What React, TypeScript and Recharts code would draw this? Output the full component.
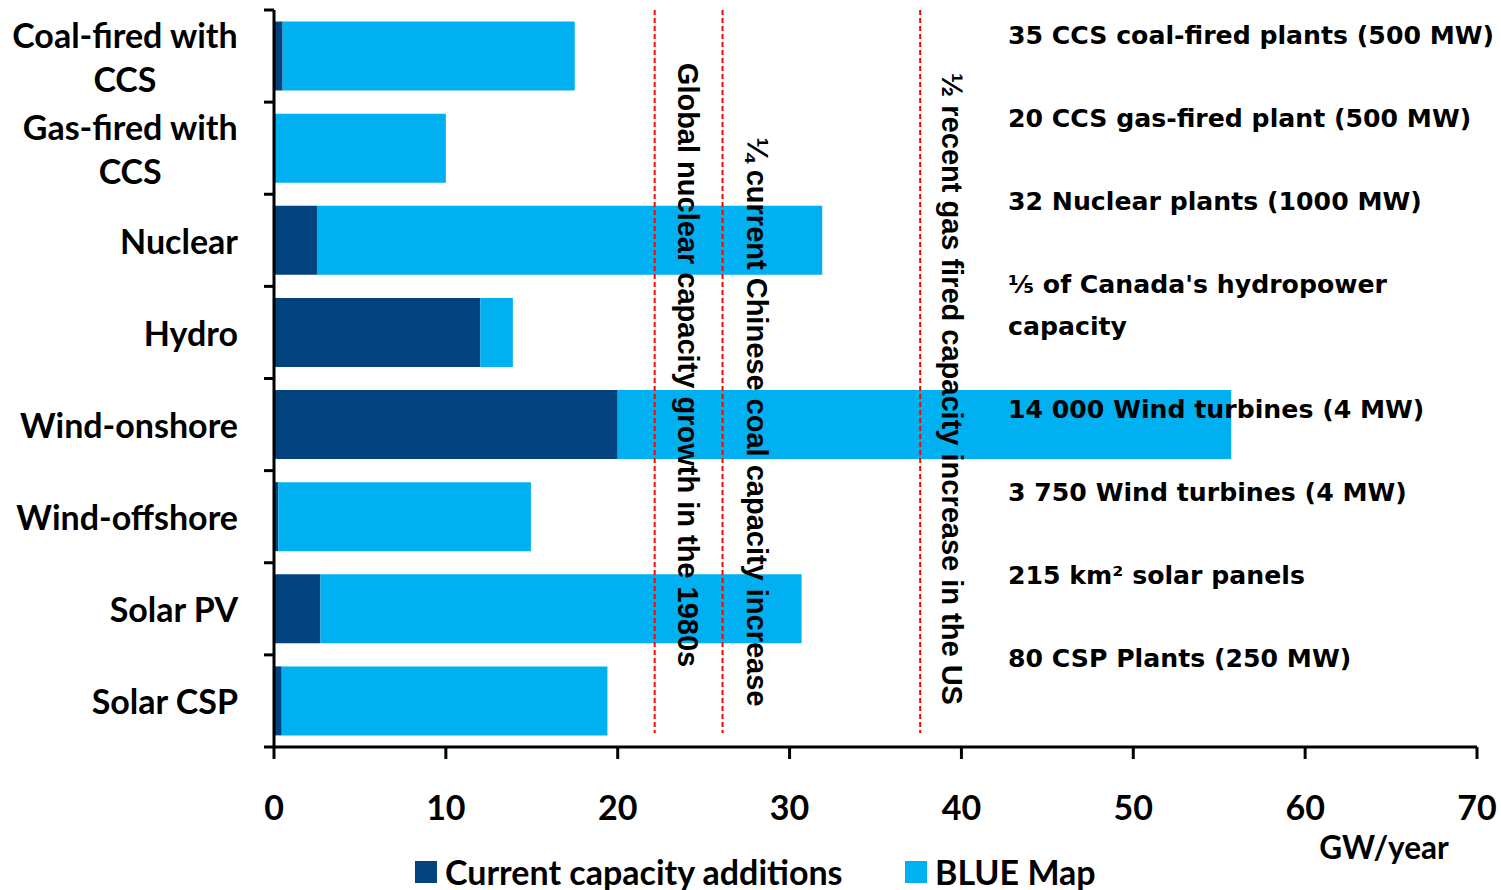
import React from 'react';
import { BarChart, Bar, XAxis, YAxis, ReferenceLine, Legend } from 'recharts';

const categories = ['Coal-fired with CCS', 'Gas-fired with CCS', 'Nuclear', 'Hydro', 'Wind-onshore', 'Wind-offshore', 'Solar PV', 'Solar CSP'];
const currentAdditions = [0.5, 0.1, 2.5, 12.0, 20.0, 0.25, 2.7, 0.45];
const blueMap = [17.0, 9.9, 29.4, 1.9, 35.7, 14.7, 28.0, 18.95];
const xTicks = [0, 10, 20, 30, 40, 50, 60, 70];
const seriesNames = ['Current capacity additions', 'BLUE Map'];
const referenceValues = [22.15, 26.1, 37.6];
const referenceLabels = [
  'Global nuclear capacity growth  in the 1980s',
  '¼ current Chinese coal capacity increase',
  '½ recent gas fired capacity increase in the US',
];
const annotations = [
  '35 CCS coal-fired plants (500 MW)',
  '20 CCS gas-fired plant (500 MW)',
  '32 Nuclear plants (1000 MW)',
  "⅕ of Canada's hydropower\ncapacity",
  '14 000 Wind turbines (4 MW)',
  '3 750 Wind turbines (4 MW)',
  '215 km² solar panels',
  '80 CSP Plants (250 MW)',
];
const unitLabel = 'GW/year';

const data = categories.map((name, i) => ({ name, current: currentAdditions[i], blue: blueMap[i] }));

const W = 1501;
const H = 890;
const MARGIN = { top: 10, right: 24, bottom: 0, left: 0 };
const Y_AXIS_W = 274;
const X_AXIS_H = 103;
const LEGEND_H = 40;
const PLOT_TOP = MARGIN.top;
const PLOT_BOTTOM = H - MARGIN.bottom - LEGEND_H - X_AXIS_H;
const BAND = (PLOT_BOTTOM - PLOT_TOP) / categories.length;
const AXIS_X = MARGIN.left + Y_AXIS_W;

const DARK = '#02427F';
const LIGHT = '#00B0F0';
const LABEL_FONT = 'Lato, "Open Sans", sans-serif';
const LABEL_SIZE = 34;
const NOTE_FONT = '"DejaVu Sans", Verdana, sans-serif';
const NOTE_SIZE = 25.2;
const REF_FONT = '"Liberation Sans", Arial, sans-serif';
const REF_SIZE = 29;
const REF_BOTTOM_GAP = 14;
const refOffsets = [
  { dx: 33, dy: -13.5 },
  { dx: 34.5, dy: 43.5 },
  { dx: 32, dy: 10.5 },
];

let measureCtx: CanvasRenderingContext2D | null = null;
function measure(text: string, font: string): number {
  if (!measureCtx) {
    const c = document.createElement('canvas');
    measureCtx = c.getContext('2d');
  }
  if (!measureCtx) return text.length * 15;
  measureCtx.font = font;
  return measureCtx.measureText(text).width;
}

function wrapLabel(label: string): string[] {
  if (label.length <= 15) return [label];
  const idx = label.lastIndexOf(' ');
  return [label.slice(0, idx), label.slice(idx + 1)];
}

const YTick = (props: any) => {
  const { y, payload, index } = props;
  const lines = wrapLabel(String(payload.value));
  const right = AXIS_X - 36;
  const top = y - BAND / 2;
  const ticks = [top];
  if (index === categories.length - 1) ticks.push(y + BAND / 2);
  let content;
  if (lines.length === 1) {
    content = (
      <text x={right} y={y} textAnchor="end" dominantBaseline="central" fontFamily={LABEL_FONT} fontWeight={700} fontSize={LABEL_SIZE} fill="#000">
        {lines[0]}
      </text>
    );
  } else {
    const w = Math.max(...lines.map((l) => measure(l, `700 ${LABEL_SIZE}px ${LABEL_FONT}`)));
    const cx = right - w / 2;
    content = (
      <text textAnchor="middle" fontFamily={LABEL_FONT} fontWeight={700} fontSize={LABEL_SIZE} fill="#000">
        {lines.map((l, i) => (
          <tspan key={i} x={cx} y={y + (i - (lines.length - 1) / 2) * 44} dominantBaseline="central">
            {l}
          </tspan>
        ))}
      </text>
    );
  }
  return (
    <g>
      {ticks.map((ty, i) => (
        <line key={i} x1={AXIS_X - 10} x2={AXIS_X} y1={ty} y2={ty} stroke="#000" strokeWidth={3} />
      ))}
      {content}
    </g>
  );
};

const XTick = (props: any) => {
  const { x, payload } = props;
  return (
    <text x={x} y={PLOT_BOTTOM + 59} textAnchor="middle" dominantBaseline="central" fontFamily={LABEL_FONT} fontWeight={700} fontSize={LABEL_SIZE} fill="#000">
      {payload.value}
    </text>
  );
};

const LegendContent = () => {
  const colors = [DARK, LIGHT];
  const lefts = [415, 905];
  return (
    <div style={{ position: 'relative', width: W, height: LEGEND_H }}>
      {seriesNames.map((n, i) => (
        <div key={n} style={{ position: 'absolute', left: lefts[i], top: 0, height: LEGEND_H, display: 'flex', alignItems: 'center' }}>
          <div style={{ width: 22, height: 22, background: colors[i], marginRight: 8, marginTop: 4 }} />
          <span style={{ fontFamily: LABEL_FONT, fontWeight: 700, fontSize: LABEL_SIZE, color: '#000', lineHeight: 1, marginTop: 4 }}>{n}</span>
        </div>
      ))}
    </div>
  );
};

const makeRefLabel = (text: string, off: { dx: number; dy: number }) => (props: any) => {
  const vb = props.viewBox || {};
  const cx = (vb.x ?? 0) + off.dx;
  const cy = (vb.y ?? 0) + (vb.height ?? 0) / 2 + off.dy;
  return (
    <text
      transform={`translate(${cx}, ${cy}) rotate(90)`}
      textAnchor="middle"
      dominantBaseline="central"
      fontFamily={REF_FONT}
      fontWeight={700}
      fontSize={REF_SIZE}
      fill="#000"
    >
      {text}
    </text>
  );
};

const RefShape = (p: any) => {
  const top = Math.min(p.y1, p.y2);
  const bottom = Math.max(p.y1, p.y2) - REF_BOTTOM_GAP;
  return <line x1={p.x1} x2={p.x2} y1={top} y2={bottom} stroke="#FF0000" strokeWidth={2} strokeDasharray="5 3" />;
};

const AnnotationsLabel = () => {
  let extra = 0;
  const items: React.ReactNode[] = [];
  annotations.forEach((a, i) => {
    const lines = a.split('\n');
    lines.forEach((l, j) => {
      const y = 35 + 83 * i + 42 * (extra + j);
      items.push(
        <text key={`${i}-${j}`} x={1008} y={y} dominantBaseline="central" fontFamily={NOTE_FONT} fontWeight={700} fontSize={NOTE_SIZE} fill="#000">
          {l}
        </text>
      );
    });
    extra += lines.length - 1;
  });
  return (
    <g>
      {items}
      <text x={1384} y={847} textAnchor="middle" dominantBaseline="central" fontFamily={LABEL_FONT} fontWeight={700} fontSize={31.5} fill="#000">
        {unitLabel}
      </text>
    </g>
  );
};

export default function App() {
  return (
    <div style={{ position: 'absolute', left: 0, top: 0, width: W, height: H, background: '#fff' }}>
      <BarChart width={W} height={H} data={data} layout="vertical" margin={MARGIN} barCategoryGap="12.5%">
        <XAxis
          type="number"
          domain={[0, 70]}
          ticks={xTicks}
          interval={0}
          height={X_AXIS_H}
          axisLine={{ stroke: '#000', strokeWidth: 3 }}
          tickLine={{ stroke: '#000', strokeWidth: 3 }}
          tickSize={12}
          tick={<XTick />}
        />
        <YAxis
          type="category"
          dataKey="name"
          width={Y_AXIS_W}
          axisLine={{ stroke: '#000', strokeWidth: 3 }}
          tickLine={false}
          tick={<YTick />}
          interval={0}
        />
        <Legend verticalAlign="bottom" height={LEGEND_H} wrapperStyle={{ left: 0, width: W }} content={<LegendContent />} />
        <Bar dataKey="current" name={seriesNames[0]} stackId="a" fill={DARK} isAnimationActive={false} />
        <Bar dataKey="blue" name={seriesNames[1]} stackId="a" fill={LIGHT} isAnimationActive={false} />
        {referenceValues.map((v, i) => (
          <ReferenceLine
            key={i}
            x={v}
            stroke="#FF0000"
            strokeWidth={2}
            strokeDasharray="5 3"
            shape={RefShape}
            label={makeRefLabel(referenceLabels[i], refOffsets[i])}
          />
        ))}
        <ReferenceLine x={70} stroke="none" label={AnnotationsLabel} />
      </BarChart>
    </div>
  );
}
